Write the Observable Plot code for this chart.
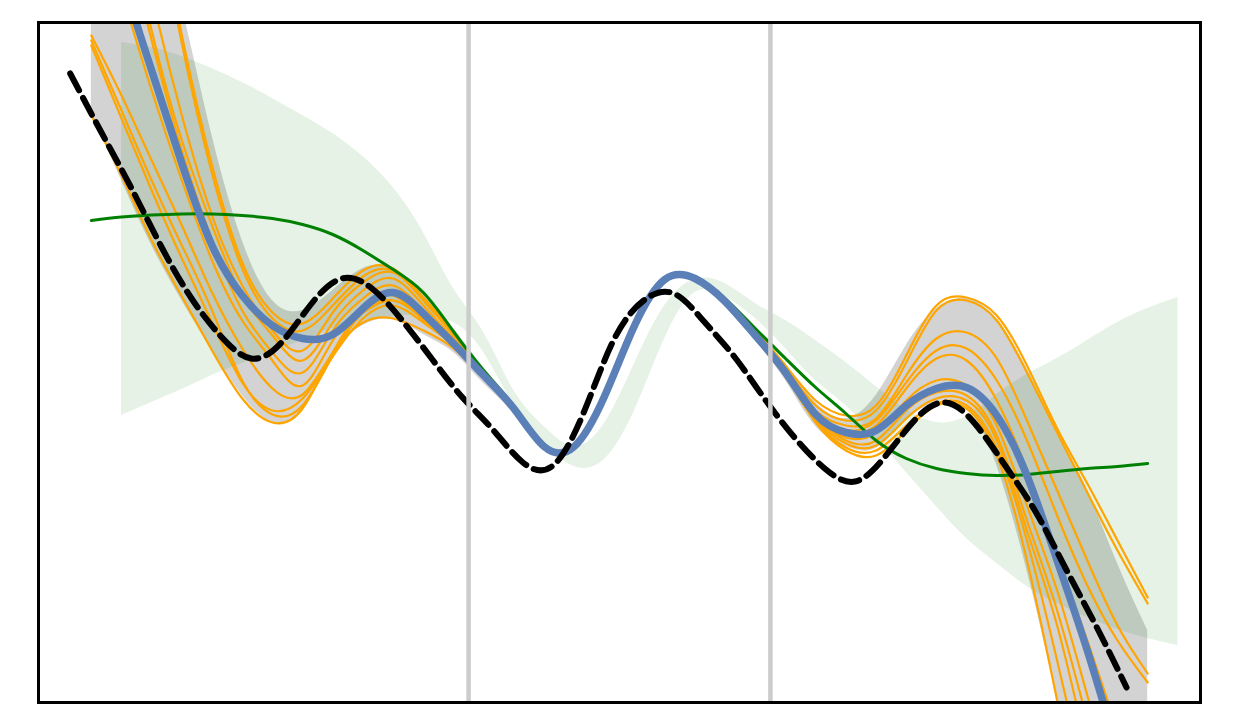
<!DOCTYPE html>
<html><head><meta charset="utf-8">
<script src="https://cdn.jsdelivr.net/npm/d3@7"></script>
<script src="https://cdn.jsdelivr.net/npm/@observablehq/plot@0.6"></script>
<style>html,body{margin:0;padding:0;background:#fff;} #chart svg{display:block;}</style>
</head><body><div id="chart"></div>
<script>
// x grid of the model curves
const modelX = [-3.5,-3.3,-3.1,-2.9,-2.7,-2.5,-2.3,-2.1,-1.9,-1.7,-1.5,-1.3,-1.1,-0.9,-0.7,-0.5,-0.3,-0.1,0.1,0.3,0.5,0.7,0.9,1.1,1.3,1.5,1.7,1.9,2.1,2.3,2.5,2.7,2.9,3.1,3.3,3.5];
// mean prediction (blue)
const meanY = [5.02,3.88,2.92,1.99,1.17,0.67,0.37,0.24,0.28,0.54,0.70,0.49,0.19,-0.13,-0.46,-0.84,-0.84,-0.34,0.37,0.83,0.84,0.61,0.27,-0.10,-0.52,-0.70,-0.68,-0.43,-0.26,-0.25,-0.53,-1.13,-1.98,-2.88,-3.88,-4.88];
// uncertainty band (gray)
const grayHi = [7.82,6.22,4.82,3.57,2.27,1.22,0.62,0.52,0.72,0.94,0.94,0.69,0.34,-0.05,-0.41,-0.80,-0.81,-0.31,0.40,0.86,0.87,0.65,0.32,-0.03,-0.40,-0.56,-0.33,0.17,0.54,0.64,0.44,-0.06,-0.68,-1.28,-2.01,-2.68];
const grayLo = [2.50,1.82,1.17,0.62,0.12,-0.33,-0.60,-0.48,0.07,0.37,0.43,0.28,0.10,-0.21,-0.51,-0.88,-0.88,-0.38,0.34,0.80,0.81,0.57,0.22,-0.18,-0.64,-0.84,-0.86,-0.58,-0.40,-0.44,-1.03,-2.08,-3.38,-4.88,-6.38,-7.88];
// green reference model
const greenY = [1.42,1.455,1.475,1.485,1.485,1.47,1.44,1.38,1.28,1.12,0.93,0.70,0.31,-0.08,-0.44,-0.82,-0.85,-0.36,0.35,0.82,0.85,0.64,0.34,0.04,-0.25,-0.51,-0.78,-0.96,-1.06,-1.11,-1.13,-1.12,-1.09,-1.06,-1.04,-1.01];
// green band
const bandX = [-3.3,-3.1,-2.9,-2.7,-2.5,-2.3,-2.1,-1.9,-1.7,-1.5,-1.3,-1.1,-0.9,-0.7,-0.5,-0.3,-0.1,0.1,0.3,0.5,0.7,0.9,1.1,1.3,1.5,1.7,1.9,2.1,2.3,2.5,2.7,2.9,3.1,3.3,3.5,3.7];
const bandHi = [3.20,3.15,3.06,2.94,2.80,2.64,2.47,2.29,2.06,1.75,1.30,0.74,0.30,-0.28,-0.64,-0.84,-0.61,-0.01,0.57,0.83,0.79,0.59,0.42,0.22,0.00,-0.24,-0.47,-0.60,-0.54,-0.32,-0.12,0.04,0.22,0.40,0.54,0.65];
const bandLo = [-0.53,-0.40,-0.27,-0.13,-0.01,0.11,0.22,0.34,0.42,0.46,0.47,0.40,0.10,-0.43,-0.81,-1.04,-0.97,-0.48,0.24,0.70,0.66,0.44,0.14,-0.18,-0.43,-0.75,-1.10,-1.44,-1.76,-2.01,-2.24,-2.41,-2.55,-2.67,-2.76,-2.83];
// true function (dashed)
const trueX = [-3.64,-3.44,-3.24,-3.04,-2.84,-2.64,-2.44,-2.24,-2.04,-1.84,-1.64,-1.44,-1.24,-1.04,-0.84,-0.64,-0.44,-0.24,-0.04,0.16,0.36,0.56,0.76,0.96,1.16,1.36,1.56,1.76,1.96,2.16,2.36,2.56,2.76,2.96,3.16,3.36];
const trueY = [2.89,2.32,1.76,1.17,0.65,0.26,0.04,0.20,0.59,0.84,0.74,0.42,0.03,-0.35,-0.67,-1.00,-1.03,-0.51,0.22,0.62,0.69,0.41,0.06,-0.36,-0.75,-1.06,-1.19,-0.94,-0.57,-0.40,-0.62,-1.04,-1.50,-2.07,-2.64,-3.25];
// posterior samples (orange)
const sampleA = [2.47,1.87,1.22,0.66,0.12,-0.36,-0.60,-0.46,0.10,0.54,0.67,0.42,0.17,-0.15,-0.47,-0.85,-0.85,-0.34,0.36,0.82,0.83,0.59,0.28,-0.09,-0.53,-0.78,-0.78,-0.48,-0.30,-0.33,-0.73,-1.58,-2.48,-3.58,-4.68,-5.78];
const sampleB = [3.22,2.52,1.82,1.17,0.52,-0.18,-0.52,-0.43,0.07,0.50,0.62,0.44,0.19,-0.14,-0.46,-0.84,-0.84,-0.34,0.37,0.83,0.84,0.60,0.32,-0.03,-0.38,-0.53,-0.43,0.07,0.57,0.65,0.47,-0.03,-0.66,-1.21,-1.78,-2.35];
const sampleC = [3.17,2.44,1.72,1.04,0.40,-0.20,-0.48,-0.36,0.06,0.44,0.57,0.40,0.17,-0.15,-0.47,-0.85,-0.84,-0.35,0.36,0.82,0.83,0.59,0.27,-0.10,-0.52,-0.71,-0.63,-0.26,0.04,0.02,-0.38,-1.08,-1.93,-2.78,-3.68,-4.58];
const sampleD = [3.27,2.67,2.02,1.37,0.70,0.14,-0.26,-0.32,0.10,0.40,0.44,0.32,0.14,-0.16,-0.47,-0.85,-0.85,-0.35,0.36,0.82,0.83,0.58,0.25,-0.13,-0.58,-0.85,-0.88,-0.63,-0.41,-0.43,-0.86,-1.78,-2.98,-4.28,-5.58,-6.88];
const sampleE = [4.82,3.72,2.72,1.82,1.02,0.42,0.02,-0.23,0.22,0.50,0.62,0.44,0.20,-0.13,-0.46,-0.84,-0.84,-0.34,0.37,0.83,0.84,0.61,0.29,-0.06,-0.43,-0.58,-0.48,0.00,0.52,0.62,0.42,-0.10,-0.70,-1.30,-1.88,-2.41];
const sampleF = [6.12,4.52,3.22,2.12,1.22,0.52,0.10,-0.10,0.32,0.64,0.77,0.52,0.22,-0.12,-0.45,-0.83,-0.83,-0.33,0.38,0.83,0.84,0.62,0.26,-0.12,-0.56,-0.81,-0.83,-0.56,-0.36,-0.38,-0.78,-1.68,-2.63,-3.88,-5.08,-6.28];
const sampleG = [6.62,4.82,3.32,2.22,1.37,0.67,0.27,0.02,0.40,0.72,0.84,0.57,0.24,-0.11,-0.45,-0.84,-0.84,-0.34,0.37,0.83,0.84,0.61,0.26,-0.10,-0.48,-0.63,-0.56,-0.13,0.24,0.30,0.04,-0.58,-1.28,-1.98,-2.63,-3.11];
const sampleH = [6.92,5.12,3.67,2.47,1.47,0.77,0.32,0.12,0.50,0.80,0.90,0.62,0.27,-0.11,-0.44,-0.83,-0.83,-0.33,0.38,0.84,0.85,0.62,0.24,-0.14,-0.60,-0.88,-0.93,-0.68,-0.43,-0.46,-0.93,-1.98,-3.38,-4.88,-6.38,-7.88];
const sampleI = [8.59,6.59,4.79,3.19,1.89,0.94,0.44,0.32,0.57,0.86,0.92,0.64,0.29,-0.10,-0.44,-0.83,-0.83,-0.33,0.37,0.83,0.84,0.61,0.24,-0.13,-0.51,-0.68,-0.58,-0.20,0.12,0.14,-0.18,-0.78,-1.53,-2.23,-2.78,-3.20];
const sampleJ = [8.67,6.67,4.87,3.27,1.97,1.00,0.50,0.39,0.64,0.92,0.94,0.65,0.30,-0.10,-0.44,-0.83,-0.84,-0.34,0.37,0.83,0.84,0.60,0.27,-0.10,-0.54,-0.75,-0.70,-0.38,-0.18,-0.23,-0.63,-1.43,-2.28,-3.33,-4.38,-5.38];
// split positions
const splitX = [-1, 1];

const samples = {A: sampleA, B: sampleB, C: sampleC, D: sampleD, E: sampleE, F: sampleF, G: sampleG, H: sampleH, I: sampleI, J: sampleJ};
const sampleRows = Object.entries(samples).flatMap(([k, ys]) => ys.map((y, i) => ({k, x: modelX[i], y})));
const modelRows = modelX.map((x, i) => ({x, mean: meanY[i], lo: grayLo[i], hi: grayHi[i], green: greenY[i]}));
const bandRows = bandX.map((x, i) => ({x, lo: bandLo[i], hi: bandHi[i]}));
const trueRows = trueX.map((x, i) => ({x, y: trueY[i]}));

const curve = "natural";
const chart = Plot.plot({
  width: 1245, height: 728,
  marginLeft: 38, marginRight: 45, marginTop: 22, marginBottom: 26,
  x: {domain: [-3.85, 3.85], axis: null},
  y: {domain: [-3.4, 3.4], axis: null},
  marks: [
    Plot.areaY(modelRows, {x: "x", y1: "lo", y2: "hi", fill: "#d3d3d3", curve, clip: true}),
    Plot.areaY(bandRows, {x: "x", y1: "lo", y2: "hi", fill: "green", fillOpacity: 0.1, curve, clip: true}),
    Plot.line(sampleRows, {x: "x", y: "y", z: "k", stroke: "orange", strokeWidth: 2.2, curve, clip: true}),
    Plot.line(modelRows, {x: "x", y: "green", stroke: "green", strokeWidth: 3, curve, clip: true}),
    Plot.line(modelRows, {x: "x", y: "mean", stroke: "#5b80b8", strokeWidth: 7.5, curve, clip: true}),
    Plot.line(trueRows, {x: "x", y: "y", stroke: "black", strokeWidth: 6, strokeDasharray: "19,8.5", curve, clip: true}),
    Plot.ruleX(splitX, {stroke: "#cccccc", strokeWidth: 4.5}),
    Plot.frame({stroke: "black", strokeWidth: 3})
  ]
});
document.getElementById("chart").appendChild(chart);
</script>
</body></html>
